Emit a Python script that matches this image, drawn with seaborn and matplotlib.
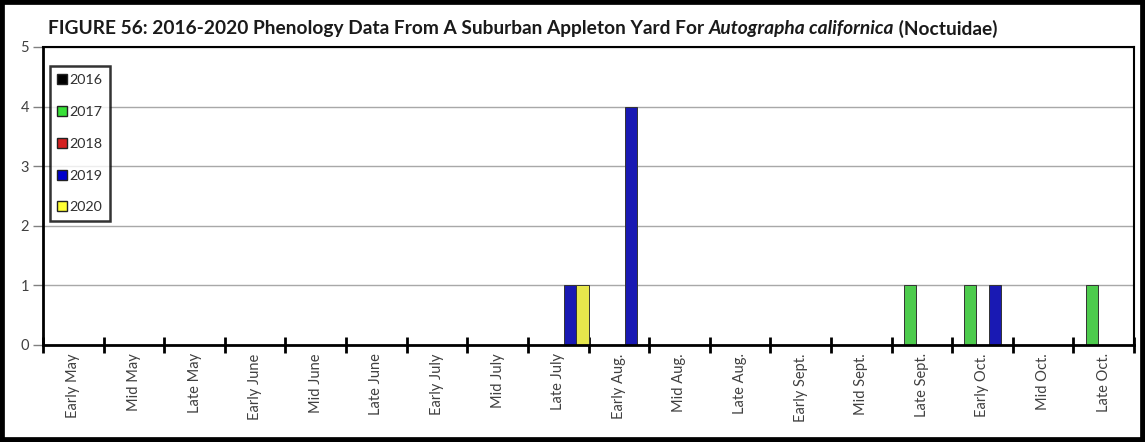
import matplotlib
matplotlib.use("Agg")
import matplotlib.pyplot as plt
import seaborn as sns
import pandas as pd
import numpy as np
from matplotlib.lines import Line2D
from matplotlib.patches import Rectangle

periods = ["Early May", "Mid May", "Late May", "Early June", "Mid June", "Late June",
           "Early July", "Mid July", "Late July", "Early Aug.", "Mid Aug.", "Late Aug.",
           "Early Sept.", "Mid Sept.", "Late Sept.", "Early Oct.", "Mid Oct.", "Late Oct."]
years = ["2016", "2017", "2018", "2019", "2020"]
counts_2016 = [0, 0, 0, 0, 0, 0, 0, 0, 0, 0, 0, 0, 0, 0, 0, 0, 0, 0]
counts_2017 = [0, 0, 0, 0, 0, 0, 0, 0, 0, 0, 0, 0, 0, 0, 1, 1, 0, 1]
counts_2018 = [0, 0, 0, 0, 0, 0, 0, 0, 0, 0, 0, 0, 0, 0, 0, 0, 0, 0]
counts_2019 = [0, 0, 0, 0, 0, 0, 0, 0, 1, 4, 0, 0, 0, 0, 0, 1, 0, 0]
counts_2020 = [0, 0, 0, 0, 0, 0, 0, 0, 1, 0, 0, 0, 0, 0, 0, 0, 0, 0]
year_colors = ["#000000", "#38E038", "#D42020", "#0000CC", "#FFFF33"]

series = [counts_2016, counts_2017, counts_2018, counts_2019, counts_2020]
df = pd.DataFrame({
    "period": [p for s in series for p in periods],
    "year": [y for y, s in zip(years, series) for _ in s],
    "count": [v for s in series for v in s],
})

sns.set_theme(style="white")
plt.rcParams["font.family"] = ["Lato", "DejaVu Sans"]

W, H = 1145, 442
fig = plt.figure(figsize=(W / 100, H / 100), dpi=100)
L, R, T, B = 43, 1134, 47, 345
ax = fig.add_axes([L / W, 1 - B / H, (R - L) / W, (B - T) / H])

sns.barplot(data=df, x="period", y="count", hue="year", order=periods,
            hue_order=years, palette=year_colors, width=1.0, dodge=True,
            edgecolor="#333333", linewidth=0.7, ax=ax, legend=False)

ax.set_xlim(-0.5, len(periods) - 0.5)
ax.set_ylim(0, 5)
ax.set_yticks(range(6))
ax.yaxis.grid(True, color="#a8a8a8", linewidth=1.0)
ax.set_axisbelow(True)
ax.set_xlabel("")
ax.set_ylabel("")

for s in ["left", "bottom"]:
    ax.spines[s].set_linewidth(2.0)
    ax.spines[s].set_color("black")
for s in ["top", "right"]:
    ax.spines[s].set_linewidth(1.5)
    ax.spines[s].set_color("black")
    ax.spines[s].set_visible(True)

ax.set_xticks(range(len(periods)))
ax.set_xticklabels(periods, rotation=90, fontsize=10.5, color="#404040")
ax.set_xticks(np.arange(-0.5, len(periods), 1.0), minor=True)
ax.tick_params(axis="x", which="major", length=0, pad=6)
ax.tick_params(axis="x", which="minor", direction="inout", length=11, width=2,
               color="black", bottom=True)
ax.tick_params(axis="y", which="major", direction="out", length=7, width=1,
               color="#808080", labelsize=10.5, labelcolor="#404040", left=True, pad=3)

handles = [Line2D([0], [0], marker="s", linestyle="none", markersize=6.5,
                  markerfacecolor=c, markeredgecolor="#222222", markeredgewidth=1.0)
           for c in year_colors]
leg = ax.legend(handles, years, loc="upper left", bbox_to_anchor=(0.006, 0.935),
                borderaxespad=0, frameon=True, fancybox=False, fontsize=10.3,
                labelspacing=1.38, handlelength=0.6, handletextpad=0.2,
                borderpad=0.55, labelcolor="#303030")
leg.get_frame().set_edgecolor("black")
leg.get_frame().set_linewidth(1.8)

# title in pieces (bold, with bold italic species name)
fig.canvas.draw()
renderer = fig.canvas.get_renderer()
parts = [("FIGURE 56: 2016-2020 Phenology Data From A Suburban Appleton Yard For ", "normal"),
         ("Autographa californica", "italic"),
         (" (Noctuidae)", "normal")]
x = 48 / W
y = 1 - 28.5 / H
for txt, style in parts:
    t = fig.text(x, y, txt, fontsize=13.8, fontweight="bold", fontstyle=style,
                 color="#1a1a1a", va="center", ha="left")
    bb = t.get_window_extent(renderer=renderer)
    x += bb.width / W

fig.patches.append(Rectangle((0, 0), 1, 1, transform=fig.transFigure, fill=False,
                             edgecolor="black", linewidth=7, zorder=10))

fig.savefig("out.png", dpi=100)
